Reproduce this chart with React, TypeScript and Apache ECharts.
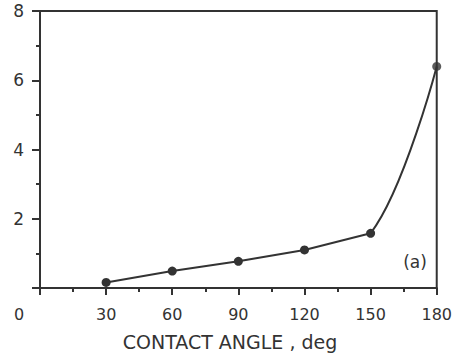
import React, { useEffect, useRef } from "react";
import * as echarts from "echarts";

const angles = [30, 60, 90, 120, 150, 180];
const values = [0.16, 0.49, 0.77, 1.1, 1.58, 6.4];
const xTicks = [0, 30, 60, 90, 120, 150, 180];
const yTicks = [0, 2, 4, 6, 8];

const INK = "#333333";
const FONT = "DejaVu Sans";

export default function App() {
  const ref = useRef<HTMLDivElement>(null);
  useEffect(() => {
    if (!ref.current) return;
    const chart = echarts.init(ref.current, undefined, { renderer: "svg" });
    const pts = angles.map((a, i) => [a, values[i]]);
    const n = pts.length;
    // fraction of the last-three-point span where the curved tail starts
    const split = (angles[n - 2] - angles[n - 3]) / (angles[n - 1] - angles[n - 3]);
    chart.setOption({
      animation: false,
      backgroundColor: "#ffffff",
      grid: {
        left: 40,
        top: 11,
        width: 397,
        height: 277,
        show: true,
        borderColor: INK,
        borderWidth: 2,
        backgroundColor: "transparent",
      },
      xAxis: {
        type: "value",
        min: xTicks[0],
        max: xTicks[xTicks.length - 1],
        interval: 30,
        axisLine: { show: true, lineStyle: { color: INK, width: 2 } },
        axisTick: { show: true, inside: false, length: 7, lineStyle: { color: INK, width: 2 } },
        minorTick: { show: true, splitNumber: 2, length: 4, lineStyle: { color: INK, width: 2 } },
        splitLine: { show: false },
        axisLabel: {
          margin: 18,
          color: INK,
          fontFamily: FONT,
          fontSize: 16,
          formatter: (v: number) => (v === 0 ? "" : String(v)),
        },
      },
      yAxis: {
        type: "value",
        min: yTicks[0],
        max: yTicks[yTicks.length - 1],
        interval: 2,
        axisLine: { show: true, lineStyle: { color: INK, width: 2 } },
        axisTick: { show: true, inside: false, length: 8, lineStyle: { color: INK, width: 2 } },
        minorTick: { show: true, splitNumber: 2, length: 4, lineStyle: { color: INK, width: 2 } },
        splitLine: { show: false },
        axisLabel: {
          margin: 16,
          color: INK,
          fontFamily: FONT,
          fontSize: 17,
          formatter: (v: number) => (v === 0 ? "" : String(v)),
        },
      },
      graphic: [
        {
          type: "text",
          x: 19,
          y: 314,
          style: {
            text: "0",
            fill: INK,
            font: `16px "${FONT}"`,
            textAlign: "center",
            textVerticalAlign: "middle",
          },
        },
        {
          type: "text",
          x: 230,
          y: 342,
          style: {
            text: "CONTACT ANGLE , deg",
            fill: INK,
            font: `19px "${FONT}"`,
            textAlign: "center",
            textVerticalAlign: "middle",
          },
        },
        {
          type: "text",
          x: 415,
          y: 262,
          style: {
            text: "(a)",
            fill: INK,
            font: `17px "${FONT}"`,
            textAlign: "center",
            textVerticalAlign: "middle",
          },
        },
      ],
      series: [
        {
          type: "line",
          data: pts.slice(0, n - 1),
          smooth: false,
          symbol: "circle",
          symbolSize: 9,
          itemStyle: { color: INK },
          lineStyle: { color: INK, width: 2 },
          clip: false,
          z: 3,
        },
        {
          type: "line",
          data: pts.slice(n - 3),
          smooth: 0.35,
          symbol: "none",
          lineStyle: {
            width: 2,
            color: {
              type: "linear",
              x: 0,
              y: 0,
              x2: 1,
              y2: 0,
              colorStops: [
                { offset: 0, color: "rgba(51,51,51,0)" },
                { offset: split, color: "rgba(51,51,51,0)" },
                { offset: split, color: INK },
                { offset: 1, color: INK },
              ],
            },
          },
          clip: false,
          z: 2,
        },
        {
          type: "scatter",
          data: pts.slice(n - 1),
          symbol: "circle",
          symbolSize: 9,
          itemStyle: { color: INK },
          clip: false,
          z: 4,
        },
      ],
    });
    return () => chart.dispose();
  }, []);
  return (
    <div
      ref={ref}
      style={{ position: "fixed", left: 0, top: 0, width: 455, height: 360 }}
    />
  );
}
